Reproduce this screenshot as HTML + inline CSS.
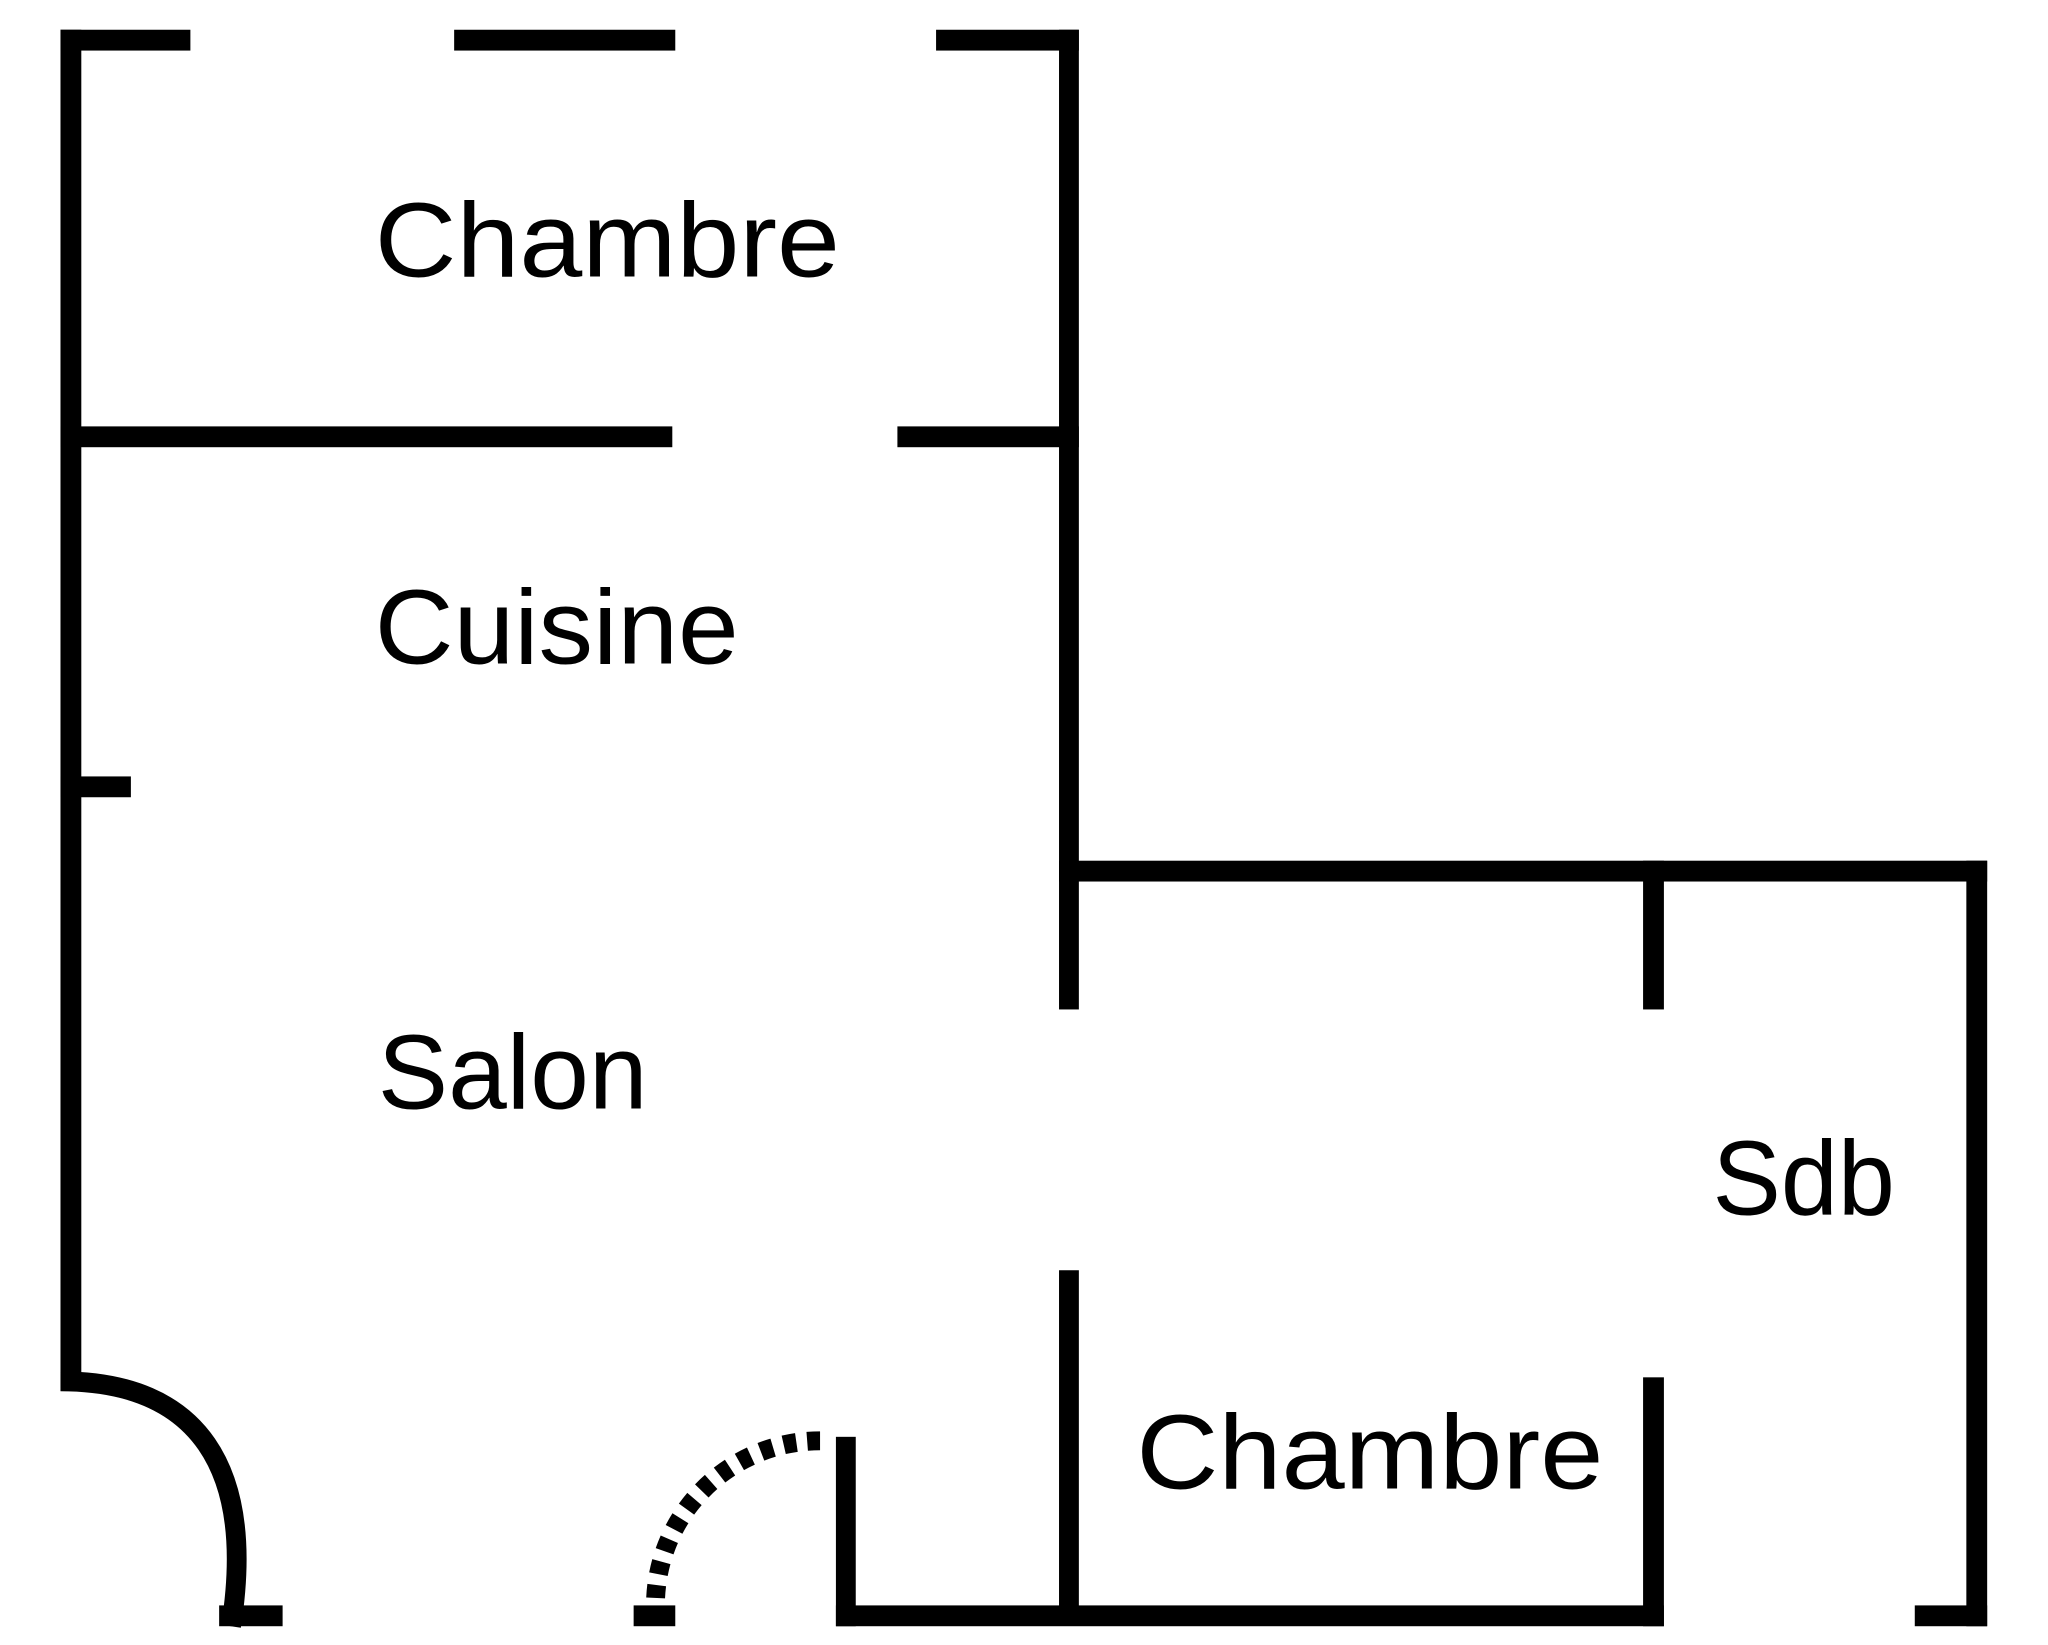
<!DOCTYPE html>
<html><head><meta charset="utf-8"><style>html,body{margin:0;padding:0;background:#fff}svg{display:block}</style></head>
<body>
<svg width="2048" height="1645" viewBox="0 0 2048 1645" xmlns="http://www.w3.org/2000/svg">
<g transform="scale(0.9916)">
<g fill="#000">
<rect x="61" y="30" width="21" height="1372"/>
<rect x="61" y="30" width="131" height="21"/>
<rect x="458" y="30" width="223" height="21"/>
<rect x="944" y="30" width="144" height="21"/>
<rect x="1068" y="30" width="20" height="988"/>
<rect x="61" y="430" width="617" height="21"/>
<rect x="905" y="430" width="183" height="21"/>
<rect x="61" y="783" width="71" height="21"/>
<rect x="1068" y="868" width="936" height="21"/>
<rect x="1983" y="868" width="21" height="772"/>
<rect x="1931" y="1619" width="73" height="21"/>
<rect x="1657" y="868" width="21" height="150"/>
<rect x="1068" y="1281" width="20" height="350"/>
<rect x="843" y="1619" width="835" height="21"/>
<rect x="843" y="1449" width="20" height="191"/>
<rect x="1657" y="1389" width="21" height="251"/>
<rect x="221" y="1619" width="64" height="21"/>
<rect x="639" y="1619" width="42" height="21"/>
</g>
<path d="M61 1393 C 200 1393, 258 1480, 233 1640" fill="none" stroke="#000" stroke-width="20"/>
<path d="M827 1453 A 166 166 0 0 0 661 1619" fill="none" stroke="#000" stroke-width="19" stroke-dasharray="13 11"/>
<g font-family="Liberation Sans, sans-serif" font-size="107" fill="#000">
<text x="378" y="279" textLength="469" lengthAdjust="spacingAndGlyphs">Chambre</text>
<text x="378" y="669" textLength="367" lengthAdjust="spacingAndGlyphs">Cuisine</text>
<text x="381" y="1118" textLength="272" lengthAdjust="spacingAndGlyphs">Salon</text>
<text x="1727" y="1225" textLength="184" lengthAdjust="spacingAndGlyphs">Sdb</text>
<text x="1146" y="1501" textLength="471" lengthAdjust="spacingAndGlyphs">Chambre</text>
</g>
</g>
</svg>
</body></html>
